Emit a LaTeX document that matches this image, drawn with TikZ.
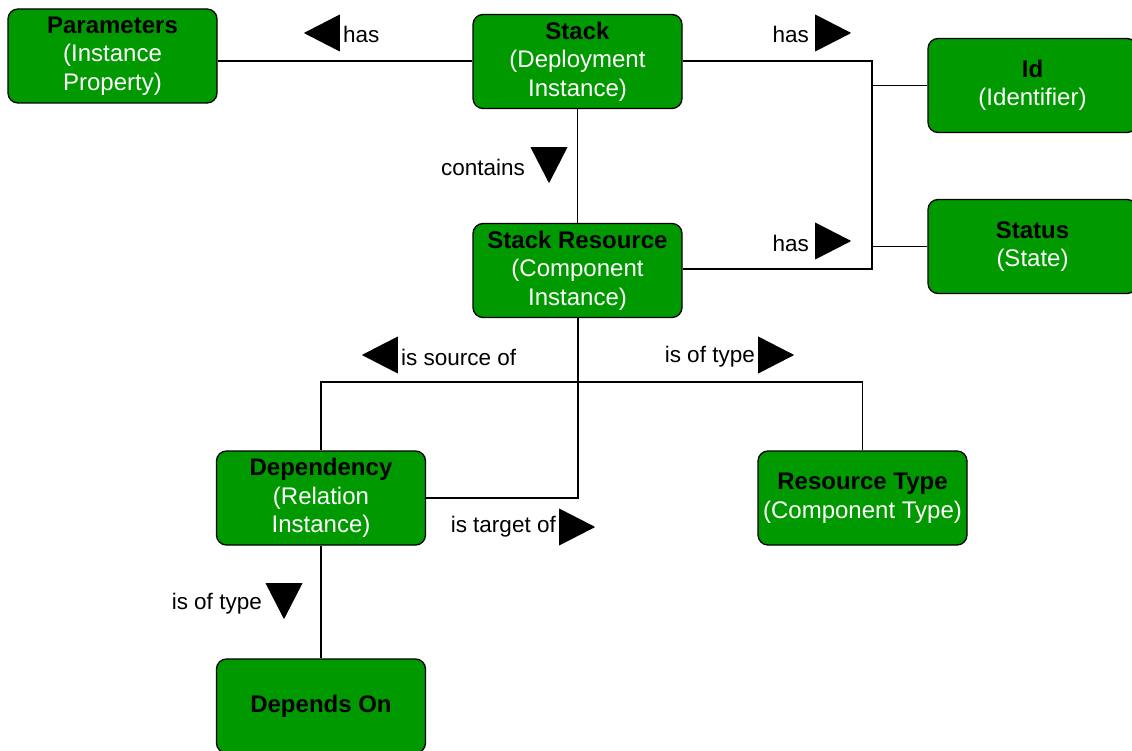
\documentclass[tikz,border=0pt]{standalone}
\usepackage{fontspec}
\setmainfont{Liberation Sans}
\usetikzlibrary{
  arrows.meta,
  positioning,
  shapes.geometric
}
\definecolor{boxgreen}{RGB}{0,153,0}
\newcommand{\ttl}[1]{\textcolor{black}{\bfseries #1}}
\tikzset{
  entity/.style = {rectangle, rounded corners=10pt, draw=black,
      line width=1.3pt, fill=boxgreen, text=white, align=center,
      minimum width=209pt, minimum height=94pt, inner sep=0pt,
      font=\fontsize{24}{28.5}\selectfont},
  lbl/.style = {inner sep=0pt, font=\fontsize{22.5}{28}\selectfont},
  tri/.style = {isosceles triangle, isosceles triangle stretches,
      fill=black, inner sep=0pt, minimum width=37pt, minimum height=36pt,
      shape border rotate=#1, anchor=lower side},
  tri/.default = 0,
  link/.style = {line width=1.4pt},
}

\begin{document}
\begin{tikzpicture}[x=1pt, y=-1pt]
  \useasboundingbox (0,0) rectangle (1132,751);

  \node[entity] (params) at (112.5,56) {\ttl{Parameters}\\(Instance\\Property)};
  \node[entity] (stack) at (577.5,61.5) {\ttl{Stack}\\(Deployment\\Instance)};
  \node[entity] (id) at (1032.5,85.5) {\ttl{Id}\\(Identifier)};
  \node[entity] (status) at (1032.5,246.5) {\ttl{Status}\\(State)};
  \node[entity] (res) at (577.5,270.5) {\ttl{Stack Resource}\\(Component\\Instance)};
  \node[entity] (dep) at (321,498) {\ttl{Dependency}\\(Relation\\Instance)};
  \node[entity] (rtype) at (862.5,498) {\ttl{Resource Type}\\(Component Type)};
  \node[entity] (dependson) at (321,706) {\ttl{Depends On}};

  % junctions
  \coordinate (busT) at (872,61);
  \coordinate (busB) at (872,269);
  \coordinate (hub) at (578,382);

  \draw[link] (busT -| stack.west) -- (busT -| params.east);
  \draw[link] (busT -| stack.east) -- (busT) -- (busB) -- (busB -| res.east);
  \draw[link] (id.west) -- (id.west -| busT);
  \draw[link] (status.west) -- (status.west -| busT);
  \draw[link] (stack) -- (res);
  \draw[link] (res.south -| hub) -- (hub) -| (dep.north);
  \draw[link] (hub) -| (rtype.north);
  \draw[link] (hub) |- (dep.east);
  \draw[link] (dep) -- (dependson);

  % relation labels
  \node[lbl, anchor=west] (hasP) at (343,34) {has};
  \node[tri=180] (hasPtri) at (340,33) {};
  \node[lbl, anchor=east] (hasI) at (809,34) {has};
  \node[tri] (hasItri) at (815,33) {};
  \node[lbl, anchor=east] (contains) at (525,167) {contains};
  \node[tri=-90] (containstri) at (549,147) {};
  \node[lbl, anchor=east] (hasS) at (809,243) {has};
  \node[tri] (hasStri) at (815,241) {};
  \node[lbl, anchor=west] (source) at (401,357) {is source of};
  \node[tri=180] (sourcetri) at (398,355) {};
  \node[lbl, anchor=east] (typeR) at (755,357) {is of type};
  \node[tri] (typeRtri) at (758,355) {};
  \node[lbl, anchor=east] (target) at (556,527) {is target of};
  \node[tri] (targettri) at (559,527) {};
  \node[lbl, anchor=east] (typeD) at (262,604) {is of type};
  \node[tri=-90] (typeDtri) at (284,583) {};
\end{tikzpicture}
\end{document}
